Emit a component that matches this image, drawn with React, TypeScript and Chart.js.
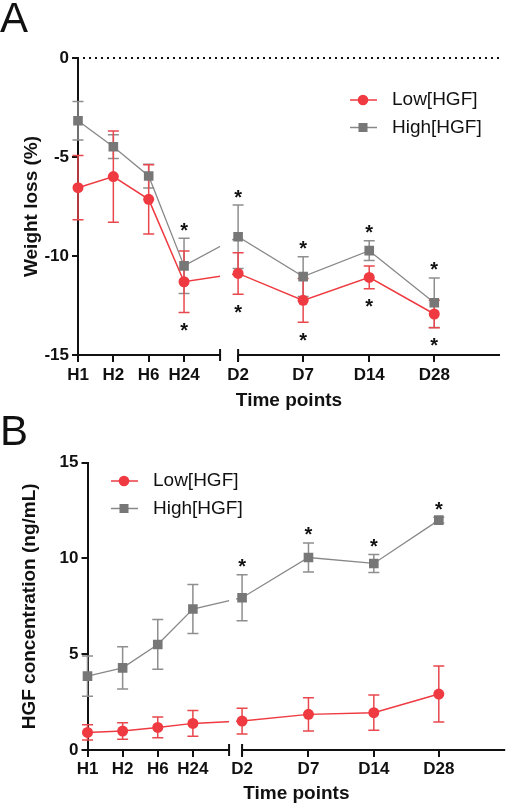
import React, { useEffect, useRef } from "react";
import { Chart, registerables } from "chart.js";
Chart.register(...registerables);

// ---------- data ----------
const timePoints = ["H1", "H2", "H6", "H24", "D2", "D7", "D14", "D28"];
const seriesNames = ["Low[HGF]", "High[HGF]"];

// Panel A: weight loss (%)
const lowWeight = [-6.55, -5.99, -7.14, -11.3, -10.88, -12.24, -11.08, -12.93];
const lowWeightErr = [1.62, 2.3, 1.75, 1.55, 1.05, 1.1, 0.57, 0.7];
const highWeight = [-3.17, -4.48, -5.96, -10.5, -9.03, -11.04, -9.73, -12.36];
const highWeightErr = [0.97, 0.6, 0.6, 1.4, 1.6, 1.0, 0.5, 1.25];
const weightStarsHigh = [0, 0, 0, 1, 1, 1, 1, 1];
const weightStarsLow = [0, 0, 0, 1, 1, 1, 1, 1];
const weightTicks = [-15, -10, -5, 0];

// Panel B: HGF concentration (ng/mL)
const lowHgf = [0.92, 0.99, 1.18, 1.39, 1.51, 1.86, 1.95, 2.92];
const lowHgfErr = [0.4, 0.43, 0.54, 0.67, 0.67, 0.87, 0.92, 1.46];
const highHgf = [3.86, 4.29, 5.51, 7.36, 7.95, 10.05, 9.74, 12.0];
const highHgfErr = [1.05, 1.1, 1.3, 1.28, 1.2, 0.76, 0.47, 0.15];
const hgfStarsHigh = [0, 0, 0, 0, 1, 1, 1, 1];
const hgfStarsLow = [0, 0, 0, 0, 0, 0, 0, 0];
const hgfTicks = [0, 5, 10, 15];

// ---------- layout (positions on the broken time axis) ----------
const xPosA = [0, 1, 2, 3, 4.53, 6.37, 8.24, 10.08];
const xPosB = [0, 1, 2, 3, 4.4, 6.29, 8.15, 10.0];

const RED = "#ee3a40";
const RED_ERR = "#e8484d";
const GRAY = "#777777";
const GRAY_LINE = "#888888";
const GRAY_ERR = "#8e8e8e";
const FONT = "'Liberation Sans', Arial, Helvetica, sans-serif";
const INK = "#111111";

type Spec = {
  canvasH: number;
  top: number;
  left: number;
  right: number;
  bottom: number;
  yMin: number;
  yMax: number;
  yTicks: number[];
  yTitle: string;
  yTitlePad: number;
  xPos: number[];
  xMax: number;
  segEnd: number;
  low: number[];
  lowErr: number[];
  high: number[];
  highErr: number[];
  starsHigh: number[];
  starsLow: number[];
  legendX: number;
  legendY: number;
  letter: string;
  letterBaseline: number;
  zeroLine: boolean;
  tickPad: number;
  xTitlePad: number;
};

function buildConfig(s: Spec): any {
  const pts = (vals: number[]) => vals.map((v, i) => ({ x: s.xPos[i], y: v }));

  const gapClip = {
    id: "gapClip",
    beforeDatasetDraw(chart: any) {
      const ctx = chart.ctx;
      const xs = chart.scales.x;
      const g0 = xs.getPixelForValue(s.segEnd);
      const g1 = xs.getPixelForValue(s.xPos[4]) - 6;
      ctx.save();
      ctx.beginPath();
      ctx.rect(0, 0, g0, chart.height);
      ctx.rect(g1, 0, chart.width - g1, chart.height);
      ctx.clip();
    },
    afterDatasetDraw(chart: any) {
      chart.ctx.restore();
    },
  };

  const decor = {
    id: "decor",
    beforeDatasetsDraw(chart: any) {
      const ctx = chart.ctx;
      const xs = chart.scales.x;
      const ys = chart.scales.y;
      const area = chart.chartArea;
      if (s.zeroLine) {
        ctx.save();
        ctx.strokeStyle = INK;
        ctx.lineWidth = 2;
        ctx.setLineDash([2, 4]);
        const y0 = ys.getPixelForValue(0);
        ctx.beginPath();
        ctx.moveTo(area.left + 5, y0);
        ctx.lineTo(area.right, y0);
        ctx.stroke();
        ctx.restore();
      }
      const drawErr = (vals: number[], errs: number[], color: string) => {
        ctx.save();
        ctx.strokeStyle = color;
        ctx.lineWidth = 1.5;
        vals.forEach((v, i) => {
          const x = xs.getPixelForValue(s.xPos[i]);
          const yt = ys.getPixelForValue(v + errs[i]);
          const yb = ys.getPixelForValue(v - errs[i]);
          ctx.beginPath();
          ctx.moveTo(x, yt);
          ctx.lineTo(x, yb);
          ctx.moveTo(x - 5.5, yt);
          ctx.lineTo(x + 5.5, yt);
          ctx.moveTo(x - 5.5, yb);
          ctx.lineTo(x + 5.5, yb);
          ctx.stroke();
        });
        ctx.restore();
      };
      drawErr(s.high, s.highErr, GRAY_ERR);
      drawErr(s.low, s.lowErr, RED_ERR);
    },
    afterDatasetsDraw(chart: any) {
      const ctx = chart.ctx;
      const xs = chart.scales.x;
      const ys = chart.scales.y;
      const area = chart.chartArea;
      ctx.save();
      ctx.strokeStyle = INK;
      ctx.lineWidth = 2;
      const yb = area.bottom;
      const e0 = xs.getPixelForValue(s.segEnd);
      const e1 = xs.getPixelForValue(s.xPos[4]);
      ctx.beginPath();
      ctx.moveTo(area.left - 1, yb);
      ctx.lineTo(e0, yb);
      ctx.moveTo(e1, yb);
      ctx.lineTo(area.right, yb);
      ctx.moveTo(e0, yb - 6);
      ctx.lineTo(e0, yb + 6);
      ctx.moveTo(e1, yb - 6);
      ctx.lineTo(e1, yb + 6);
      ctx.stroke();
      ctx.restore();
      ctx.save();
      ctx.fillStyle = INK;
      ctx.font = `bold 20px ${FONT}`;
      ctx.textAlign = "center";
      ctx.textBaseline = "alphabetic";
      s.high.forEach((v, i) => {
        if (!s.starsHigh[i]) return;
        const x = xs.getPixelForValue(s.xPos[i]);
        const y = ys.getPixelForValue(v + s.highErr[i]) - 13;
        ctx.fillText("*", x, y + 11.5);
      });
      s.low.forEach((v, i) => {
        if (!s.starsLow[i]) return;
        const x = xs.getPixelForValue(s.xPos[i]);
        const y = ys.getPixelForValue(v - s.lowErr[i]) + 13;
        ctx.fillText("*", x, y + 11.5);
      });
      ctx.restore();
    },
    afterDraw(chart: any) {
      const ctx = chart.ctx;
      const entries = [
        { name: seriesNames[0], color: RED, line: RED, shape: "circle" },
        { name: seriesNames[1], color: GRAY, line: GRAY_LINE, shape: "rect" },
      ];
      entries.forEach((e, k) => {
        const y = s.legendY + k * 27.5;
        const mx = s.legendX;
        ctx.save();
        ctx.strokeStyle = e.line;
        ctx.lineWidth = 1.5;
        ctx.beginPath();
        ctx.moveTo(mx - 13, y);
        ctx.lineTo(mx + 14, y);
        ctx.stroke();
        ctx.fillStyle = e.color;
        if (e.shape === "circle") {
          ctx.beginPath();
          ctx.arc(mx, y, 5.3, 0, Math.PI * 2);
          ctx.fill();
        } else {
          ctx.fillRect(mx - 4.5, y - 4.5, 9, 9);
        }
        ctx.fillStyle = INK;
        ctx.font = `19px ${FONT}`;
        ctx.textAlign = "left";
        ctx.textBaseline = "middle";
        ctx.fillText(e.name, mx + 29, y);
        ctx.restore();
      });
      ctx.save();
      ctx.fillStyle = INK;
      ctx.font = `42px ${FONT}`;
      ctx.textAlign = "left";
      ctx.textBaseline = "alphabetic";
      ctx.fillText(s.letter, 0, s.letterBaseline);
      ctx.restore();
    },
  };

  return {
    type: "line",
    data: {
      datasets: [
        {
          label: seriesNames[0],
          data: pts(s.low),
          borderColor: RED,
          borderWidth: 1.5,
          backgroundColor: RED,
          pointStyle: "circle",
          pointRadius: 5.5,
          pointBorderWidth: 0,
          pointBackgroundColor: RED,
          tension: 0,
          clip: false,
        },
        {
          label: seriesNames[1],
          data: pts(s.high),
          borderColor: GRAY_LINE,
          borderWidth: 1.3,
          backgroundColor: GRAY,
          pointStyle: "rect",
          pointRadius: 6.8,
          pointBorderWidth: 0,
          pointBackgroundColor: GRAY,
          tension: 0,
          clip: false,
        },
      ],
    },
    options: {
      responsive: false,
      animation: false,
      devicePixelRatio: 1,
      layout: { padding: { top: s.top, right: s.right, left: 0, bottom: 0 } },
      plugins: { legend: { display: false }, tooltip: { enabled: false } },
      scales: {
        x: {
          type: "linear",
          min: 0,
          max: s.xMax,
          afterFit: (sc: any) => {
            sc.height = s.canvasH - s.bottom;
          },
          afterBuildTicks: (sc: any) => {
            sc.ticks = s.xPos.map((v) => ({ value: v }));
          },
          ticks: {
            autoSkip: false,
            maxRotation: 0,
            padding: s.tickPad,
            color: INK,
            font: { family: FONT, size: 17, weight: "bold" },
            callback: (_v: any, i: number) => timePoints[i],
          },
          grid: {
            display: true,
            drawOnChartArea: false,
            drawTicks: true,
            tickLength: 7,
            lineWidth: 2,
            color: INK,
          },
          border: { display: false },
          title: {
            display: true,
            text: "Time points",
            color: INK,
            font: { family: FONT, size: 19, weight: "bold" },
            padding: { top: 0, bottom: s.xTitlePad },
          },
        },
        y: {
          type: "linear",
          min: s.yMin,
          max: s.yMax,
          afterFit: (sc: any) => {
            sc.width = s.left;
          },
          afterBuildTicks: (sc: any) => {
            sc.ticks = s.yTicks.map((v) => ({ value: v }));
          },
          ticks: {
            padding: 3,
            color: INK,
            font: { family: FONT, size: 17, weight: "bold" },
          },
          grid: {
            display: true,
            drawOnChartArea: false,
            drawTicks: true,
            tickLength: 6,
            lineWidth: 2,
            color: INK,
          },
          border: { display: true, color: INK, width: 2 },
          title: {
            display: true,
            text: s.yTitle,
            color: INK,
            font: { family: FONT, size: 19, weight: "bold" },
            padding: { top: s.yTitlePad, bottom: 0 },
          },
        },
      },
    },
    plugins: [gapClip, decor],
  };
}

const specA: Spec = {
  canvasH: 420,
  top: 58,
  left: 78,
  right: 12,
  bottom: 355,
  yMin: -15,
  yMax: 0,
  yTicks: weightTicks,
  yTitle: "Weight loss (%)",
  yTitlePad: 20,
  xPos: xPosA,
  xMax: 11.94,
  segEnd: 4.02,
  low: lowWeight,
  lowErr: lowWeightErr,
  high: highWeight,
  highErr: highWeightErr,
  starsHigh: weightStarsHigh,
  starsLow: weightStarsLow,
  legendX: 363,
  legendY: 100,
  letter: "A",
  letterBaseline: 32,
  zeroLine: true,
  tickPad: 3,
  xTitlePad: 8,
};

const specB: Spec = {
  canvasH: 406,
  top: 62.7,
  left: 87.5,
  right: 2,
  bottom: 350,
  yMin: 0,
  yMax: 15,
  yTicks: hgfTicks,
  yTitle: "HGF concentration (ng/mL)",
  yTitlePad: 18,
  xPos: xPosB,
  xMax: 11.89,
  segEnd: 4.03,
  low: lowHgf,
  lowErr: lowHgfErr,
  high: highHgf,
  highErr: highHgfErr,
  starsHigh: hgfStarsHigh,
  starsLow: hgfStarsLow,
  legendX: 124,
  legendY: 81,
  letter: "B",
  letterBaseline: 45,
  zeroLine: false,
  tickPad: 2,
  xTitlePad: 1,
};

function Panel({ spec, top }: { spec: Spec; top: number }) {
  const ref = useRef<HTMLCanvasElement>(null);
  useEffect(() => {
    const chart = new Chart(ref.current as HTMLCanvasElement, buildConfig(spec));
    return () => chart.destroy();
  }, []);
  return (
    <canvas
      ref={ref}
      width={512}
      height={spec.canvasH}
      style={{ position: "absolute", left: 0, top, width: 512, height: spec.canvasH }}
    />
  );
}

export default function App() {
  return (
    <div style={{ position: "fixed", left: 0, top: 0, width: 512, height: 806, background: "#fff" }}>
      <Panel spec={specA} top={0} />
      <Panel spec={specB} top={400} />
    </div>
  );
}
